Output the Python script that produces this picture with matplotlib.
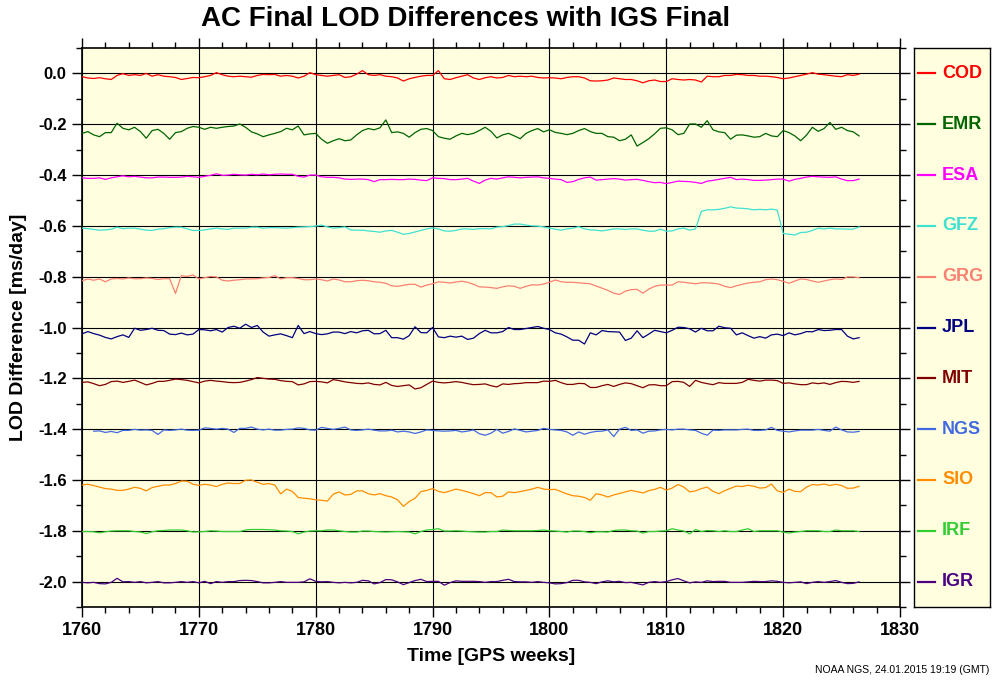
import numpy as np
import matplotlib
matplotlib.use("Agg")
import matplotlib.pyplot as plt
from matplotlib.ticker import MultipleLocator, FuncFormatter

plt.rcParams['font.family'] = ['Liberation Sans', 'DejaVu Sans']
plt.rcParams['axes.unicode_minus'] = False

# GPS weeks (half-week sampling)
weeks = np.arange(1760.0, 1827.0, 0.5)

nan = np.nan

COD = [-0.013,-0.018,-0.020,-0.017,-0.021,-0.024,-0.008,-0.001,-0.008,-0.005,
       -0.008,0.000,-0.011,-0.005,-0.011,-0.013,-0.016,-0.024,-0.020,-0.016,
       -0.017,-0.013,-0.008,0.003,-0.005,-0.011,-0.013,-0.011,-0.013,-0.015,
       -0.008,-0.004,-0.005,-0.004,-0.011,-0.008,-0.011,-0.018,-0.011,0.003,
       -0.005,-0.008,-0.011,-0.008,-0.005,-0.016,-0.013,-0.003,0.011,-0.005,
       -0.008,-0.005,-0.011,-0.013,-0.018,-0.030,-0.021,-0.016,-0.011,-0.008,
       -0.008,0.011,-0.021,-0.024,-0.017,-0.011,-0.005,-0.018,-0.024,-0.017,
       -0.013,-0.018,-0.016,-0.008,-0.013,-0.011,-0.013,-0.011,-0.016,-0.018,
       -0.017,-0.018,-0.021,-0.016,-0.013,-0.013,-0.018,-0.029,-0.030,-0.029,
       -0.026,-0.018,-0.021,-0.024,-0.024,-0.029,-0.037,-0.029,-0.026,-0.032,
       -0.032,-0.021,-0.024,-0.026,-0.024,-0.026,-0.034,-0.011,-0.013,-0.013,
       -0.008,-0.008,-0.004,-0.005,-0.008,-0.008,-0.011,-0.011,-0.013,-0.016,
       -0.021,-0.018,-0.013,-0.008,-0.003,0.003,-0.003,-0.005,-0.008,-0.011,
       -0.013,-0.005,-0.008,-0.003]

EMR = [-0.236,-0.229,-0.242,-0.249,-0.233,-0.233,-0.196,-0.216,-0.222,-0.212,
       -0.229,-0.255,-0.225,-0.220,-0.236,-0.259,-0.233,-0.229,-0.216,-0.209,
       -0.212,-0.220,-0.212,-0.216,-0.212,-0.209,-0.207,-0.199,-0.212,-0.230,
       -0.238,-0.249,-0.242,-0.236,-0.229,-0.216,-0.222,-0.207,-0.242,-0.238,
       -0.236,-0.259,-0.275,-0.265,-0.257,-0.265,-0.262,-0.242,-0.225,-0.217,
       -0.222,-0.214,-0.183,-0.233,-0.230,-0.236,-0.251,-0.233,-0.220,-0.217,
       -0.225,-0.249,-0.255,-0.259,-0.246,-0.236,-0.241,-0.236,-0.225,-0.212,
       -0.228,-0.254,-0.242,-0.236,-0.246,-0.257,-0.236,-0.225,-0.217,-0.230,
       -0.222,-0.232,-0.236,-0.241,-0.236,-0.225,-0.217,-0.229,-0.236,-0.236,
       -0.249,-0.251,-0.265,-0.259,-0.242,-0.286,-0.272,-0.257,-0.238,-0.216,
       -0.214,-0.222,-0.241,-0.236,-0.199,-0.199,-0.212,-0.186,-0.222,-0.230,
       -0.233,-0.259,-0.243,-0.242,-0.246,-0.251,-0.249,-0.236,-0.246,-0.249,
       -0.225,-0.233,-0.246,-0.265,-0.243,-0.212,-0.228,-0.217,-0.193,-0.220,
       -0.212,-0.225,-0.230,-0.246]

ESA = [-0.411,-0.413,-0.413,-0.411,-0.417,-0.411,-0.407,-0.403,-0.407,-0.405,
       -0.408,-0.411,-0.411,-0.408,-0.408,-0.409,-0.409,-0.408,-0.405,-0.407,
       -0.409,-0.405,-0.401,-0.395,-0.401,-0.400,-0.397,-0.399,-0.400,-0.397,
       -0.399,-0.396,-0.399,-0.397,-0.396,-0.397,-0.397,-0.405,-0.408,-0.400,
       -0.400,-0.407,-0.409,-0.409,-0.411,-0.416,-0.417,-0.416,-0.416,-0.418,
       -0.426,-0.418,-0.418,-0.417,-0.418,-0.418,-0.416,-0.417,-0.420,-0.422,
       -0.411,-0.413,-0.414,-0.418,-0.418,-0.416,-0.413,-0.424,-0.433,-0.420,
       -0.413,-0.416,-0.411,-0.407,-0.409,-0.411,-0.409,-0.408,-0.407,-0.411,
       -0.413,-0.416,-0.418,-0.429,-0.426,-0.417,-0.411,-0.408,-0.420,-0.418,
       -0.416,-0.414,-0.416,-0.420,-0.418,-0.417,-0.421,-0.426,-0.430,-0.429,
       -0.434,-0.429,-0.424,-0.425,-0.426,-0.429,-0.433,-0.424,-0.421,-0.417,
       -0.413,-0.409,-0.418,-0.416,-0.418,-0.421,-0.421,-0.420,-0.418,-0.416,
       -0.416,-0.424,-0.417,-0.413,-0.408,-0.405,-0.407,-0.408,-0.409,-0.407,
       -0.416,-0.422,-0.422,-0.416]

GFZ = [-0.609,-0.611,-0.614,-0.617,-0.616,-0.613,-0.605,-0.611,-0.609,-0.609,
       -0.613,-0.617,-0.618,-0.613,-0.611,-0.607,-0.605,-0.605,-0.612,-0.618,
       -0.618,-0.616,-0.612,-0.609,-0.612,-0.614,-0.609,-0.609,-0.609,-0.605,
       -0.605,-0.609,-0.607,-0.607,-0.608,-0.609,-0.607,-0.605,-0.604,-0.603,
       -0.601,-0.597,-0.604,-0.609,-0.607,-0.604,-0.616,-0.617,-0.617,-0.620,
       -0.622,-0.625,-0.620,-0.618,-0.625,-0.633,-0.630,-0.624,-0.618,-0.612,
       -0.608,-0.612,-0.620,-0.621,-0.618,-0.612,-0.612,-0.614,-0.611,-0.611,
       -0.612,-0.605,-0.603,-0.599,-0.593,-0.593,-0.597,-0.600,-0.601,-0.604,
       -0.609,-0.613,-0.617,-0.612,-0.609,-0.603,-0.612,-0.616,-0.617,-0.620,
       -0.616,-0.612,-0.612,-0.614,-0.612,-0.612,-0.617,-0.621,-0.621,-0.613,
       -0.621,-0.620,-0.612,-0.609,-0.617,-0.612,-0.543,-0.537,-0.537,-0.535,
       -0.531,-0.525,-0.530,-0.531,-0.533,-0.537,-0.535,-0.537,-0.534,-0.538,
       -0.630,-0.633,-0.636,-0.626,-0.625,-0.618,-0.609,-0.612,-0.609,-0.612,
       -0.612,-0.613,-0.613,-0.604]

GRG = [-0.816,-0.809,-0.814,-0.809,-0.820,-0.809,-0.807,-0.809,-0.805,-0.808,
       -0.808,-0.805,-0.807,-0.811,-0.808,-0.808,-0.866,-0.796,-0.799,-0.793,
       -0.809,-0.804,-0.799,-0.801,-0.814,-0.817,-0.814,-0.812,-0.809,-0.809,
       -0.808,-0.805,-0.803,-0.796,-0.809,-0.804,-0.804,-0.807,-0.812,-0.812,
       -0.809,-0.812,-0.817,-0.809,-0.813,-0.820,-0.820,-0.816,-0.814,-0.816,
       -0.820,-0.822,-0.826,-0.836,-0.838,-0.834,-0.830,-0.830,-0.841,-0.833,
       -0.828,-0.820,-0.822,-0.825,-0.821,-0.818,-0.822,-0.830,-0.840,-0.841,
       -0.843,-0.846,-0.840,-0.836,-0.838,-0.846,-0.838,-0.832,-0.833,-0.829,
       -0.822,-0.813,-0.820,-0.822,-0.822,-0.824,-0.826,-0.828,-0.837,-0.845,
       -0.854,-0.865,-0.870,-0.857,-0.851,-0.850,-0.865,-0.849,-0.838,-0.833,
       -0.833,-0.833,-0.820,-0.822,-0.825,-0.828,-0.824,-0.824,-0.826,-0.829,
       -0.838,-0.843,-0.836,-0.830,-0.825,-0.822,-0.820,-0.812,-0.809,-0.812,
       -0.818,-0.826,-0.817,-0.809,-0.811,-0.817,-0.822,-0.817,-0.812,-0.809,
       -0.811,-0.801,-0.801,-0.804]

JPL = [-1.025,-1.016,-1.024,-1.030,-1.039,-1.045,-1.036,-1.029,-1.039,-1.003,
       -1.011,-1.008,-1.003,-1.011,-1.012,-1.026,-1.028,-1.022,-1.029,-1.026,
       -1.008,-1.009,-1.013,-1.008,-1.018,-1.000,-0.995,-1.003,-0.987,-1.000,
       -0.992,-1.018,-1.034,-1.029,-1.025,-1.032,-1.040,-0.992,-1.024,-1.016,
       -1.024,-1.028,-1.025,-1.018,-1.018,-1.024,-1.016,-1.021,-1.013,-1.011,
       -1.025,-1.024,-1.011,-1.040,-1.040,-1.046,-1.032,-0.997,-1.020,-1.021,
       -1.000,-1.037,-1.040,-1.034,-1.038,-1.034,-1.047,-1.042,-1.024,-1.011,
       -1.021,-1.021,-1.016,-1.000,-1.008,-1.008,-1.004,-1.000,-0.996,-1.003,
       -1.008,-1.021,-1.026,-1.037,-1.050,-1.050,-1.065,-1.021,-1.029,-1.012,
       -1.016,-1.017,-1.018,-1.051,-1.042,-1.013,-1.040,-1.026,-1.011,-1.016,
       -1.021,-1.011,-0.999,-1.000,-1.005,-1.018,-1.003,-1.013,-1.013,-0.995,
       -1.001,-1.003,-1.029,-1.021,-1.032,-1.042,-1.036,-1.042,-1.029,-1.026,
       -1.032,-1.021,-1.029,-1.024,-1.016,-1.017,-1.008,-1.012,-1.011,-1.008,
       -1.008,-1.034,-1.045,-1.040]

MIT = [-1.216,-1.214,-1.221,-1.229,-1.224,-1.213,-1.211,-1.216,-1.212,-1.207,
       -1.216,-1.226,-1.220,-1.212,-1.212,-1.208,-1.203,-1.205,-1.208,-1.213,
       -1.218,-1.211,-1.208,-1.211,-1.213,-1.216,-1.217,-1.216,-1.211,-1.205,
       -1.197,-1.200,-1.203,-1.204,-1.209,-1.212,-1.213,-1.226,-1.222,-1.213,
       -1.212,-1.214,-1.218,-1.205,-1.209,-1.214,-1.217,-1.220,-1.221,-1.218,
       -1.224,-1.226,-1.216,-1.228,-1.232,-1.229,-1.226,-1.242,-1.237,-1.224,
       -1.211,-1.216,-1.218,-1.216,-1.213,-1.216,-1.221,-1.225,-1.224,-1.222,
       -1.229,-1.234,-1.222,-1.224,-1.221,-1.220,-1.217,-1.217,-1.217,-1.211,
       -1.212,-1.208,-1.217,-1.224,-1.224,-1.220,-1.221,-1.236,-1.236,-1.229,
       -1.224,-1.232,-1.224,-1.218,-1.221,-1.229,-1.237,-1.226,-1.225,-1.229,
       -1.229,-1.213,-1.212,-1.216,-1.232,-1.208,-1.216,-1.221,-1.225,-1.217,
       -1.220,-1.220,-1.220,-1.216,-1.204,-1.208,-1.211,-1.207,-1.207,-1.209,
       -1.220,-1.218,-1.222,-1.225,-1.225,-1.218,-1.221,-1.218,-1.224,-1.217,
       -1.212,-1.213,-1.216,-1.212]

NGS = [nan,nan,-1.408,-1.407,-1.413,-1.409,-1.414,-1.405,-1.405,-1.401,
       -1.404,-1.403,-1.405,-1.421,-1.403,-1.405,-1.403,-1.400,-1.404,-1.405,
       -1.404,-1.395,-1.397,-1.400,-1.397,-1.400,-1.413,-1.397,-1.397,-1.392,
       -1.400,-1.403,-1.400,-1.404,-1.404,-1.401,-1.400,-1.395,-1.397,-1.403,
       -1.404,-1.393,-1.397,-1.401,-1.397,-1.392,-1.403,-1.405,-1.403,-1.400,
       -1.404,-1.407,-1.407,-1.404,-1.411,-1.408,-1.411,-1.417,-1.411,-1.403,
       -1.405,-1.407,-1.408,-1.407,-1.405,-1.411,-1.408,-1.403,-1.418,-1.424,
       -1.416,-1.401,-1.416,-1.409,-1.399,-1.405,-1.411,-1.408,-1.405,-1.397,
       -1.401,-1.403,-1.405,-1.411,-1.424,-1.411,-1.420,-1.413,-1.409,-1.408,
       -1.403,-1.429,-1.400,-1.393,-1.405,-1.403,-1.416,-1.408,-1.407,-1.403,
       -1.401,-1.403,-1.400,-1.400,-1.403,-1.405,-1.416,-1.424,-1.404,-1.405,
       -1.403,-1.403,-1.403,-1.401,-1.400,-1.405,-1.405,-1.403,-1.393,-1.405,
       -1.408,-1.411,-1.407,-1.404,-1.404,-1.404,-1.401,-1.405,-1.408,-1.392,
       -1.403,-1.411,-1.412,-1.409]

SIO = [-1.620,-1.617,-1.622,-1.628,-1.634,-1.636,-1.641,-1.641,-1.636,-1.629,
       -1.633,-1.643,-1.630,-1.625,-1.620,-1.620,-1.614,-1.604,-1.605,-1.617,
       -1.621,-1.617,-1.620,-1.626,-1.617,-1.612,-1.614,-1.614,-1.601,-1.600,
       -1.609,-1.617,-1.614,-1.620,-1.655,-1.636,-1.645,-1.669,-1.672,-1.674,
       -1.678,-1.680,-1.683,-1.656,-1.647,-1.659,-1.657,-1.643,-1.643,-1.654,
       -1.659,-1.654,-1.662,-1.667,-1.678,-1.704,-1.685,-1.672,-1.646,-1.641,
       -1.634,-1.645,-1.650,-1.643,-1.636,-1.641,-1.647,-1.654,-1.662,-1.650,
       -1.650,-1.667,-1.664,-1.647,-1.650,-1.646,-1.641,-1.636,-1.629,-1.636,
       -1.638,-1.637,-1.646,-1.655,-1.662,-1.664,-1.669,-1.680,-1.654,-1.659,
       -1.667,-1.659,-1.653,-1.647,-1.641,-1.646,-1.651,-1.642,-1.637,-1.629,
       -1.640,-1.632,-1.618,-1.628,-1.647,-1.643,-1.634,-1.628,-1.645,-1.654,
       -1.642,-1.633,-1.624,-1.626,-1.621,-1.625,-1.632,-1.630,-1.616,-1.643,
       -1.649,-1.636,-1.645,-1.646,-1.628,-1.618,-1.620,-1.616,-1.622,-1.617,
       -1.622,-1.633,-1.632,-1.625]

IRF = [-1.803,-1.803,-1.804,-1.808,-1.804,-1.801,-1.800,-1.800,-1.800,-1.803,
       -1.805,-1.811,-1.804,-1.800,-1.799,-1.797,-1.797,-1.797,-1.800,-1.805,
       -1.804,-1.803,-1.800,-1.801,-1.803,-1.803,-1.803,-1.803,-1.797,-1.795,
       -1.795,-1.795,-1.796,-1.797,-1.800,-1.801,-1.803,-1.812,-1.805,-1.801,
       -1.800,-1.800,-1.797,-1.797,-1.800,-1.803,-1.805,-1.805,-1.801,-1.801,
       -1.803,-1.804,-1.805,-1.804,-1.803,-1.804,-1.805,-1.812,-1.803,-1.797,
       -1.795,-1.792,-1.801,-1.801,-1.800,-1.801,-1.803,-1.804,-1.805,-1.805,
       -1.803,-1.803,-1.797,-1.799,-1.800,-1.800,-1.800,-1.800,-1.799,-1.797,
       -1.800,-1.801,-1.803,-1.805,-1.801,-1.801,-1.803,-1.808,-1.804,-1.804,
       -1.805,-1.799,-1.797,-1.797,-1.800,-1.801,-1.809,-1.803,-1.803,-1.801,
       -1.800,-1.792,-1.797,-1.801,-1.812,-1.795,-1.803,-1.799,-1.800,-1.803,
       -1.800,-1.803,-1.803,-1.797,-1.792,-1.803,-1.800,-1.800,-1.800,-1.800,
       -1.805,-1.809,-1.805,-1.803,-1.800,-1.800,-1.800,-1.803,-1.803,-1.797,
       -1.800,-1.800,-1.800,-1.803]

IGR = [-2.003,-2.005,-2.003,-2.008,-2.009,-2.003,-1.987,-2.001,-2.000,-2.003,
       -2.000,-2.005,-2.003,-2.000,-2.005,-2.005,-2.003,-2.000,-2.003,-2.000,
       -2.005,-1.999,-2.008,-2.000,-2.003,-2.000,-2.000,-1.996,-1.995,-1.996,
       -2.000,-2.005,-2.005,-2.003,-2.000,-2.003,-2.003,-2.003,-2.001,-1.989,
       -1.999,-2.001,-2.000,-2.003,-2.005,-2.003,-2.005,-2.003,-1.995,-1.997,
       -2.009,-2.004,-1.992,-1.993,-2.001,-2.012,-2.004,-1.996,-1.991,-2.000,
       -1.999,-1.999,-2.014,-2.004,-1.997,-1.999,-1.999,-1.999,-2.000,-2.003,
       -2.000,-2.000,-1.995,-1.991,-2.000,-2.001,-2.001,-2.003,-2.000,-2.003,
       -2.005,-2.009,-2.008,-2.004,-1.995,-1.995,-2.001,-2.003,-2.008,-2.001,
       -1.997,-2.001,-1.999,-2.004,-2.003,-2.008,-2.013,-2.003,-2.000,-2.003,
       -2.000,-1.993,-1.988,-1.997,-2.005,-2.001,-2.003,-1.997,-2.000,-1.999,
       -1.999,-2.003,-2.003,-2.003,-2.001,-1.999,-2.000,-2.000,-1.997,-1.999,
       -2.003,-2.005,-2.003,-2.001,-2.008,-2.003,-2.000,-2.003,-2.000,-1.996,
       -2.003,-2.008,-2.007,-2.001]

centers = ["COD", "EMR", "ESA", "GFZ", "GRG", "JPL", "MIT", "NGS", "SIO", "IRF", "IGR"]
legend_levels = [0.0, -0.2, -0.4, -0.6, -0.8, -1.0, -1.2, -1.4, -1.6, -1.8, -2.0]
series = [COD, EMR, ESA, GFZ, GRG, JPL, MIT, NGS, SIO, IRF, IGR]
colors = ["#ff0000", "#006400", "#ff00ff", "#40e0d0", "#fa8072", "#000080",
          "#800000", "#4169e1", "#ff8c00", "#32cd32", "#4b0082"]

W, H = 992, 680
fig = plt.figure(figsize=(W / 100, H / 100), dpi=100)
fig.patch.set_facecolor("white")
bg = "#ffffe0"

ax = fig.add_axes([82 / W, 1 - 607 / H, (900 - 82) / W, (607 - 48) / H])
ax.set_facecolor(bg)
for vals, col in zip(series, colors):
    ax.plot(weeks, vals, color=col, lw=0.9, zorder=3)

ax.set_xlim(1760, 1830)
ax.set_ylim(-2.1, 0.1)
ax.xaxis.set_major_locator(MultipleLocator(10))
ax.xaxis.set_minor_locator(MultipleLocator(2))
ax.yaxis.set_major_locator(MultipleLocator(0.2))
ax.yaxis.set_minor_locator(MultipleLocator(0.1))
ax.yaxis.set_major_formatter(FuncFormatter(lambda v, p: ("%.1f" % v).replace("-0.0", "0.0")))
ax.grid(True, which="major", color="black", lw=0.8, zorder=1)
ax.tick_params(which="both", direction="out", top=True, right=True, width=1.0)
ax.tick_params(which="major", length=7)
ax.tick_params(which="minor", length=4)
ax.tick_params(axis="x", labelsize=13, pad=4)
ax.tick_params(axis="y", labelsize=12, pad=4)
for lbl in ax.get_xticklabels() + ax.get_yticklabels():
    lbl.set_fontweight("bold")
for s in ax.spines.values():
    s.set_linewidth(1.2)

ax.set_xlabel("Time [GPS weeks]", fontsize=14, fontweight="bold", labelpad=6)
ax.set_ylabel("LOD Difference [ms/day]", fontsize=14, fontweight="bold", labelpad=8)

fig.text(466 / W, 1 - 19 / H, "AC Final LOD Differences with IGS Final",
         ha="center", va="center", fontsize=20, fontweight="bold")
fig.text(989 / W, 1 - 670 / H, "NOAA NGS, 24.01.2015 19:19 (GMT)",
         ha="right", va="center", fontsize=7.5)

# legend panel
lax = fig.add_axes([914 / W, 1 - 607 / H, (990 - 914) / W, (607 - 48) / H])
lax.set_facecolor(bg)
lax.set_xlim(0, 1)
lax.set_ylim(-2.1, 0.1)
lax.set_xticks([])
lax.set_yticks([])
for s in lax.spines.values():
    s.set_linewidth(1.0)
for name, lev, col in zip(centers, legend_levels, colors):
    lax.plot([0.05, 0.28], [lev, lev], color=col, lw=1.6)
    lax.text(0.37, lev, name, color=col, fontsize=13, fontweight="bold",
             ha="left", va="center")

fig.savefig("out.png", dpi=100)
